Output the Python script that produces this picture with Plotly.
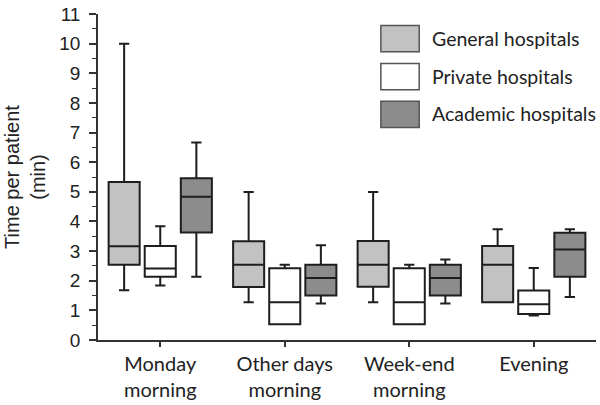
import plotly.graph_objects as go

categories = ["Monday<br>morning", "Other days<br>morning", "Week-end<br>morning", "Evening"]
series_names = ["General hospitals", "Private hospitals", "Academic hospitals"]
y_ticks = [0, 1, 2, 3, 4, 5, 6, 7, 8, 9, 10, 11]

general_low = [1.68, 1.27, 1.27, 1.27]
general_q1 = [2.54, 1.79, 1.80, 1.27]
general_med = [3.16, 2.54, 2.54, 2.54]
general_q3 = [5.33, 3.33, 3.34, 3.17]
general_high = [10.0, 4.99, 4.99, 3.74]

private_low = [1.84, 0.53, 0.53, 0.83]
private_q1 = [2.13, 0.53, 0.53, 0.88]
private_med = [2.41, 1.27, 1.27, 1.21]
private_q3 = [3.17, 2.42, 2.42, 1.67]
private_high = [3.84, 2.54, 2.54, 2.43]

academic_low = [2.13, 1.23, 1.23, 1.45]
academic_q1 = [3.63, 1.50, 1.50, 2.13]
academic_med = [4.83, 2.09, 2.09, 3.05]
academic_q3 = [5.46, 2.54, 2.54, 3.62]
academic_high = [6.66, 3.20, 2.72, 3.74]

fills = ["#c2c2c2", "#ffffff", "#8c8c8c"]
edge = "#1e1e1e"

stats = [
    (general_low, general_q1, general_med, general_q3, general_high),
    (private_low, private_q1, private_med, private_q3, private_high),
    (academic_low, academic_q1, academic_med, academic_q3, academic_high),
]

fig = go.Figure()
for name, fill, (lo, q1, med, q3, hi) in zip(series_names, fills, stats):
    fig.add_trace(go.Box(
        name=name, x=categories, lowerfence=lo, q1=q1, median=med, q3=q3, upperfence=hi,
        fillcolor=fill, line=dict(color=edge, width=2), whiskerwidth=0.33,
        boxpoints=False, showlegend=False, hoverinfo="skip",
    ))

fig.update_layout(
    width=600, height=405,
    margin=dict(l=98, r=4, t=10, b=65),
    paper_bgcolor="white", plot_bgcolor="white",
    boxmode="group", boxgap=0.13, boxgroupgap=0.14,
    showlegend=False,
)
fig.update_xaxes(
    range=[-0.5, 3.5], showline=True, linecolor="#333333", linewidth=1.5,
    ticks="outside", ticklen=5, tickcolor="#333333", tickwidth=1.5,
    tickfont=dict(family="Lato", size=20, color="#222222"), showgrid=False, zeroline=False,
)
fig.update_yaxes(
    range=[0, 11.0], tickmode="array", tickvals=y_ticks, ticktext=[str(v) for v in y_ticks],
    showline=True, linecolor="#333333", linewidth=1.5,
    ticks="outside", ticklen=7, tickcolor="#333333", tickwidth=1.5, ticklabelstandoff=5,
    ticklabeloverflow="allow",
    minor=dict(tickmode="array", tickvals=[v + 0.5 for v in y_ticks[:-1]], ticks="outside",
               ticklen=4, tickcolor="#333333", tickwidth=1.2, showgrid=False),
    tickfont=dict(family="Liberation Sans", size=19, color="#222222"),
    showgrid=False, zeroline=False,
    title=dict(text="Time per patient<br>(min)", font=dict(family="Liberation Sans", size=20, color="#222222"), standoff=8),
)

legend_y = [(0.884, 0.965, 0.924), (0.768, 0.848, 0.809), (0.652, 0.732, 0.694)]
for name, fill, (y0, y1, yc) in zip(series_names, fills, legend_y):
    fig.add_shape(type="rect", xref="paper", yref="paper", x0=0.568, x1=0.645, y0=y0, y1=y1,
                  fillcolor=fill, line=dict(color="#555555", width=1.5))
    fig.add_annotation(xref="paper", yref="paper", x=0.667, y=yc, text=name, showarrow=False,
                       xanchor="left", yanchor="middle",
                       font=dict(family="Lato", size=19.5, color="#222222"))

fig.write_html("out.html", config={"displayModeBar": False},
               post_script="document.body.style.margin='0';")
